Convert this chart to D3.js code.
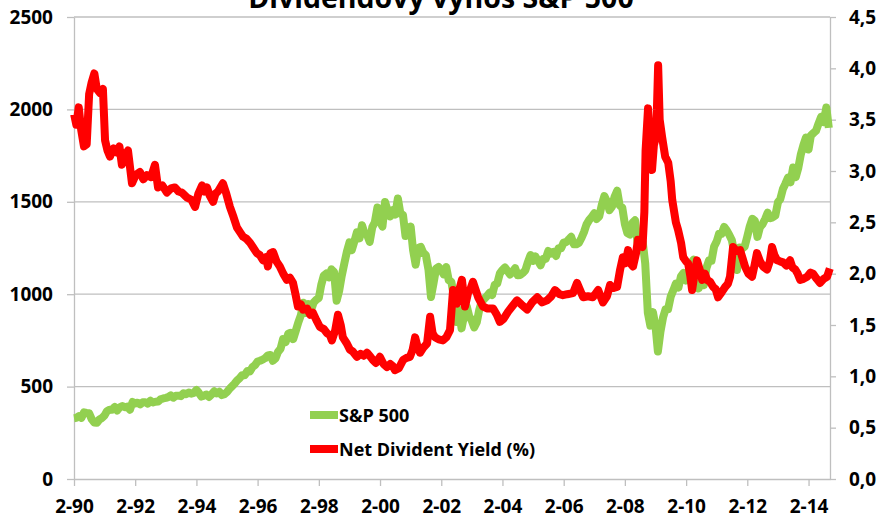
<!DOCTYPE html>
<html>
<head>
<meta charset="utf-8">
<script src="https://cdn.jsdelivr.net/npm/d3@7"></script>
<style>
  body { margin: 0; background: #fff; }
  text { font-family: "Open Sans", sans-serif; font-weight: bold; fill: #000; }
</style>
</head>
<body>
<div id="chart"></div>
<script>
// chart values
const title = "Dividendový výnos S&P 500";
const spName = "S&P 500";
const yieldName = "Net Divident Yield (%)";

// S&P 500, one value per month from Feb 1990
const spStart = new Date(1990, 1, 1);
const spValues = [
  329, 331, 340, 331, 361, 358, 356, 323, 306, 304, 322, 330,
  344, 367, 375, 375, 390, 371, 388, 395, 388, 392, 375, 417,
  409, 413, 404, 415, 415, 408, 424, 414, 418, 419, 431, 436,
  439, 443, 452, 440, 450, 451, 448, 464, 459, 468, 462, 466,
  482, 467, 446, 451, 457, 444, 458, 475, 463, 472, 454, 459,
  471, 487, 501, 515, 533, 545, 562, 562, 584, 582, 605, 616,
  636, 640, 646, 654, 669, 671, 640, 652, 687, 705, 757, 741,
  786, 791, 757, 801, 848, 885, 954, 899, 947, 915, 955, 970,
  980, 1049, 1101, 1112, 1091, 1134, 1121, 965, 1017, 1099, 1164, 1229,
  1280, 1238, 1286, 1335, 1302, 1373, 1329, 1320, 1283, 1363, 1389, 1469,
  1394, 1366, 1499, 1452, 1421, 1455, 1431, 1518, 1437, 1429, 1315, 1320,
  1366, 1240, 1160, 1249, 1256, 1224, 1211, 1134, 985, 1060, 1139, 1148,
  1130, 1107, 1147, 1076, 1067, 990, 850, 916, 815, 886, 936, 880,
  856, 820, 848, 917, 964, 975, 990, 1008, 996, 1051, 1058, 1112,
  1131, 1145, 1126, 1107, 1121, 1141, 1102, 1104, 1115, 1130, 1174, 1212,
  1181, 1204, 1181, 1157, 1192, 1191, 1234, 1220, 1229, 1207, 1249, 1248,
  1280, 1281, 1295, 1311, 1270, 1270, 1277, 1304, 1336, 1378, 1401, 1418,
  1438, 1407, 1421, 1482, 1531, 1503, 1455, 1474, 1527, 1560, 1481, 1468,
  1379, 1331, 1323, 1386, 1400, 1280, 1267, 1283, 1166, 900, 830, 903,
  826, 690, 798, 873, 919, 919, 987, 1021, 1057, 1036, 1096, 1115,
  1074, 1104, 1169, 1187, 1089, 1031, 1102, 1049, 1141, 1183, 1181, 1258,
  1286, 1327, 1326, 1364, 1345, 1321, 1292, 1219, 1131, 1253, 1247, 1258,
  1312, 1366, 1408, 1398, 1310, 1362, 1379, 1407, 1441, 1412, 1416, 1426,
  1498, 1515, 1569, 1598, 1631, 1606, 1686, 1633, 1682, 1757, 1806, 1848,
  1783, 1859, 1872, 1884, 1924, 1960, 1931, 2010, 1900
];

// dividend yield, dates as decimal years
const yieldDates = [
  1990.09, 1990.16, 1990.24, 1990.32, 1990.41, 1990.50, 1990.58, 1990.66, 1990.75, 1990.83, 1990.93,
  1991.03, 1991.10, 1991.18, 1991.26, 1991.38, 1991.49, 1991.57, 1991.65, 1991.75, 1991.85, 1991.98,
  1992.10, 1992.24, 1992.35, 1992.47, 1992.60, 1992.73, 1992.83, 1992.97,
  1993.12, 1993.25, 1993.38, 1993.50, 1993.61, 1993.78, 1993.92,
  1994.04, 1994.15, 1994.27, 1994.35, 1994.43, 1994.52, 1994.63, 1994.71, 1994.79, 1994.95,
  1995.06, 1995.18, 1995.30, 1995.41, 1995.52, 1995.61, 1995.72, 1995.84, 1995.95,
  1996.06, 1996.16, 1996.26, 1996.36, 1996.42, 1996.50, 1996.59, 1996.70, 1996.81, 1996.92,
  1997.04, 1997.14, 1997.24, 1997.32, 1997.40, 1997.50, 1997.57, 1997.70, 1997.80, 1997.89,
  1998.00, 1998.12, 1998.25, 1998.35, 1998.45, 1998.51, 1998.62, 1998.71, 1998.80, 1998.87,
  1999.00, 1999.10, 1999.20, 1999.33, 1999.45, 1999.55, 1999.66, 1999.75, 1999.85, 1999.95,
  2000.08, 2000.20, 2000.31, 2000.42, 2000.50, 2000.57, 2000.70, 2000.84, 2000.95,
  2001.06, 2001.15, 2001.23, 2001.30, 2001.39, 2001.50, 2001.62, 2001.72, 2001.80, 2001.88,
  2002.00, 2002.14, 2002.25, 2002.37, 2002.47, 2002.55, 2002.60, 2002.68, 2002.76, 2002.86, 2002.96,
  2003.05, 2003.12, 2003.20, 2003.29, 2003.45, 2003.60, 2003.78, 2003.90,
  2004.00, 2004.12, 2004.27, 2004.40, 2004.56, 2004.70, 2004.89,
  2005.05, 2005.22, 2005.38, 2005.54, 2005.68, 2005.80, 2005.95,
  2006.06, 2006.20, 2006.39, 2006.52, 2006.62, 2006.72, 2006.88,
  2007.04, 2007.21, 2007.37, 2007.50, 2007.60, 2007.72, 2007.83, 2007.93,
  2008.02, 2008.10, 2008.19, 2008.27, 2008.35, 2008.45, 2008.51, 2008.58, 2008.66, 2008.72, 2008.76,
  2008.84, 2008.90, 2008.97, 2009.03, 2009.07, 2009.13, 2009.17, 2009.22, 2009.30, 2009.40, 2009.50,
  2009.58, 2009.63, 2009.75, 2009.82, 2009.92, 2009.99,
  2010.08, 2010.15, 2010.22, 2010.28, 2010.36, 2010.44, 2010.52, 2010.61, 2010.70, 2010.77, 2010.87, 2010.97,
  2011.05, 2011.13, 2011.25, 2011.36, 2011.45, 2011.52, 2011.62, 2011.72, 2011.85, 2011.93,
  2012.01, 2012.12, 2012.24, 2012.32, 2012.40, 2012.50, 2012.60, 2012.73, 2012.82, 2012.89, 2012.97,
  2013.06, 2013.15, 2013.25, 2013.36, 2013.48, 2013.56, 2013.65, 2013.73, 2013.81, 2013.92,
  2014.04, 2014.15, 2014.23, 2014.35, 2014.46, 2014.58, 2014.69, 2014.78
];
const yieldValues = [
  3.55, 3.45, 3.62, 3.40, 3.24, 3.26, 3.75, 3.86, 3.95, 3.80, 3.76,
  3.80, 3.30, 3.20, 3.14, 3.22, 3.18, 3.24, 3.06, 3.15, 3.20, 2.88,
  2.96, 2.99, 2.92, 2.96, 2.94, 3.06, 2.84, 2.86,
  2.79, 2.83, 2.84, 2.80, 2.79, 2.74, 2.72,
  2.65, 2.78, 2.86, 2.80, 2.84, 2.76, 2.70, 2.78, 2.80, 2.88,
  2.78, 2.65, 2.55, 2.45, 2.40, 2.36, 2.34, 2.30, 2.25,
  2.20, 2.18, 2.13, 2.16, 2.07, 2.20, 2.21, 2.12, 2.07, 2.00,
  1.94, 1.96, 1.91, 1.80, 1.68, 1.70, 1.65, 1.66, 1.60, 1.62,
  1.55, 1.48, 1.46, 1.42, 1.40, 1.35, 1.45, 1.60, 1.50, 1.38,
  1.32, 1.26, 1.24, 1.19, 1.22, 1.20, 1.23, 1.20, 1.16, 1.13,
  1.19, 1.12, 1.09, 1.12, 1.10, 1.06, 1.08, 1.16, 1.18,
  1.19, 1.26, 1.38, 1.30, 1.23, 1.28, 1.32, 1.58, 1.42, 1.38,
  1.36, 1.35, 1.38, 1.45, 1.84, 1.72, 1.71, 1.85, 1.94, 1.68, 1.81,
  1.86, 1.92, 1.85, 1.77, 1.68, 1.66, 1.66, 1.60,
  1.53, 1.56, 1.63, 1.68, 1.74, 1.70, 1.65,
  1.72, 1.77, 1.72, 1.74, 1.78, 1.84, 1.80,
  1.79, 1.80, 1.81, 1.91, 1.84, 1.77, 1.78,
  1.77, 1.84, 1.72, 1.78, 1.89, 1.86, 1.87, 2.04,
  2.16, 2.10, 2.23, 2.10, 2.07, 2.20, 2.33, 2.30, 2.26, 2.60, 3.20,
  3.61, 3.10, 3.01, 3.25, 3.30, 3.60, 4.03, 3.50, 3.33, 3.14, 3.08,
  2.90, 2.72, 2.50, 2.43, 2.30, 2.16,
  2.12, 2.10, 1.98, 1.84, 2.00, 2.13, 2.05, 1.94, 2.00, 1.94, 1.92, 1.87,
  1.85, 1.77, 1.82, 1.87, 1.90, 1.97, 2.26, 2.22, 2.23, 2.15,
  2.07, 2.00, 1.97, 2.08, 2.20, 2.12, 2.07, 2.04, 2.12, 2.26, 2.18,
  2.13, 2.12, 2.11, 2.08, 2.13, 2.06, 2.04, 2.00, 1.94, 1.95,
  1.97, 2.01, 2.00, 1.95, 1.91, 1.95, 1.97, 2.05
];

const leftTicks = [0, 500, 1000, 1500, 2000, 2500];
const rightTicks = [0, 0.5, 1, 1.5, 2, 2.5, 3, 3.5, 4, 4.5];
const xTickYears = [1990, 1992, 1994, 1996, 1998, 2000, 2002, 2004, 2006, 2008, 2010, 2012, 2014];

// set the dimensions and margins of the graph
const margin = { top: 17, right: 54, bottom: 42, left: 74 },
  width = 884 - margin.left - margin.right,
  height = 521 - margin.top - margin.bottom,
  green = "#92D050",
  red = "#FF0000",
  grey = "#BFBFBF";

const fromDecimal = (y) => {
  const yr = Math.floor(y);
  const start = new Date(yr, 0, 1), end = new Date(yr + 1, 0, 1);
  return new Date(+start + (y - yr) * (end - start));
};

const spData = spValues.map((v, i) => ({ date: d3.timeMonth.offset(spStart, i), value: v }));
const yieldData = yieldDates.map((d, i) => ({ date: fromDecimal(d), value: yieldValues[i] }));

const svg0 = d3
  .select("#chart")
  .append("svg")
  .attr("width", width + margin.left + margin.right)
  .attr("height", height + margin.top + margin.bottom);

// title, cut off at the top like the original
svg0
  .append("text")
  .attr("x", 441)
  .attr("y", 8)
  .attr("text-anchor", "middle")
  .style("font-size", "28.5px")
  .text(title);

const svg = svg0.append("g").attr("transform", "translate(" + margin.left + "," + margin.top + ")");

const x = d3.scaleTime().domain([spStart, new Date(2014, 9, 15)]).range([0, width]);
const yL = d3.scaleLinear().domain([0, 2500]).range([height, 0]);
const yR = d3.scaleLinear().domain([0, 4.5]).range([height, 0]);

// gridlines
svg
  .append("g")
  .selectAll("line")
  .data(leftTicks.slice(1))
  .enter()
  .append("line")
  .attr("x1", 0)
  .attr("x2", width)
  .attr("y1", (d) => yL(d))
  .attr("y2", (d) => yL(d))
  .style("stroke", grey)
  .style("stroke-width", 1.3);

// axes
const styleAxis = (g) => {
  g.selectAll(".domain").style("stroke", grey).style("stroke-width", 1.3);
  g.selectAll(".tick line").style("stroke", grey).style("stroke-width", 1.3);
  g.selectAll(".tick text").style("font-size", "19px").style("font-family", "'Open Sans', sans-serif").style("font-weight", "bold");
};

svg
  .append("g")
  .call(d3.axisLeft(yL).tickValues(leftTicks).tickSize(7).tickSizeOuter(0).tickPadding(14).tickFormat(d3.format("d")))
  .call(styleAxis);

svg
  .append("g")
  .attr("transform", "translate(" + width + ",0)")
  .call(
    d3
      .axisRight(yR)
      .tickValues(rightTicks)
      .tickSize(6)
      .tickSizeOuter(0)
      .tickPadding(13)
      .tickFormat((d) => d3.format(".1f")(d).replace(".", ","))
  )
  .call(styleAxis);

svg
  .append("g")
  .attr("transform", "translate(0," + height + ")")
  .call(
    d3
      .axisBottom(x)
      .tickValues(xTickYears.map((y) => new Date(y, 1, 1)))
      .tickSize(7)
      .tickSizeOuter(0)
      .tickPadding(14)
      .tickFormat(d3.timeFormat("%-m-%y"))
  )
  .call(styleAxis);

// lines
const spLine = d3.line().x((d) => x(d.date)).y((d) => yL(d.value));
const yieldLine = d3.line().x((d) => x(d.date)).y((d) => yR(d.value));

svg
  .append("path")
  .datum(spData)
  .attr("d", spLine)
  .style("fill", "none")
  .style("stroke", green)
  .style("stroke-width", 8)
  .style("stroke-linejoin", "round");

svg
  .append("path")
  .datum(yieldData)
  .attr("d", yieldLine)
  .style("fill", "none")
  .style("stroke", red)
  .style("stroke-width", 8)
  .style("stroke-linejoin", "round");

// legend
const legend = svg0.append("g").attr("transform", "translate(310,415)");
[
  [spName, green],
  [yieldName, red],
].forEach(([name, col], i) => {
  legend
    .append("line")
    .attr("x1", 0)
    .attr("x2", 28)
    .attr("y1", i * 34)
    .attr("y2", i * 34)
    .style("stroke", col)
    .style("stroke-width", 8);
  legend
    .append("text")
    .attr("x", 29)
    .attr("y", i * 34)
    .attr("dominant-baseline", "central")
    .style("font-size", "18px")
    .text(name);
});
</script>
</body>
</html>
